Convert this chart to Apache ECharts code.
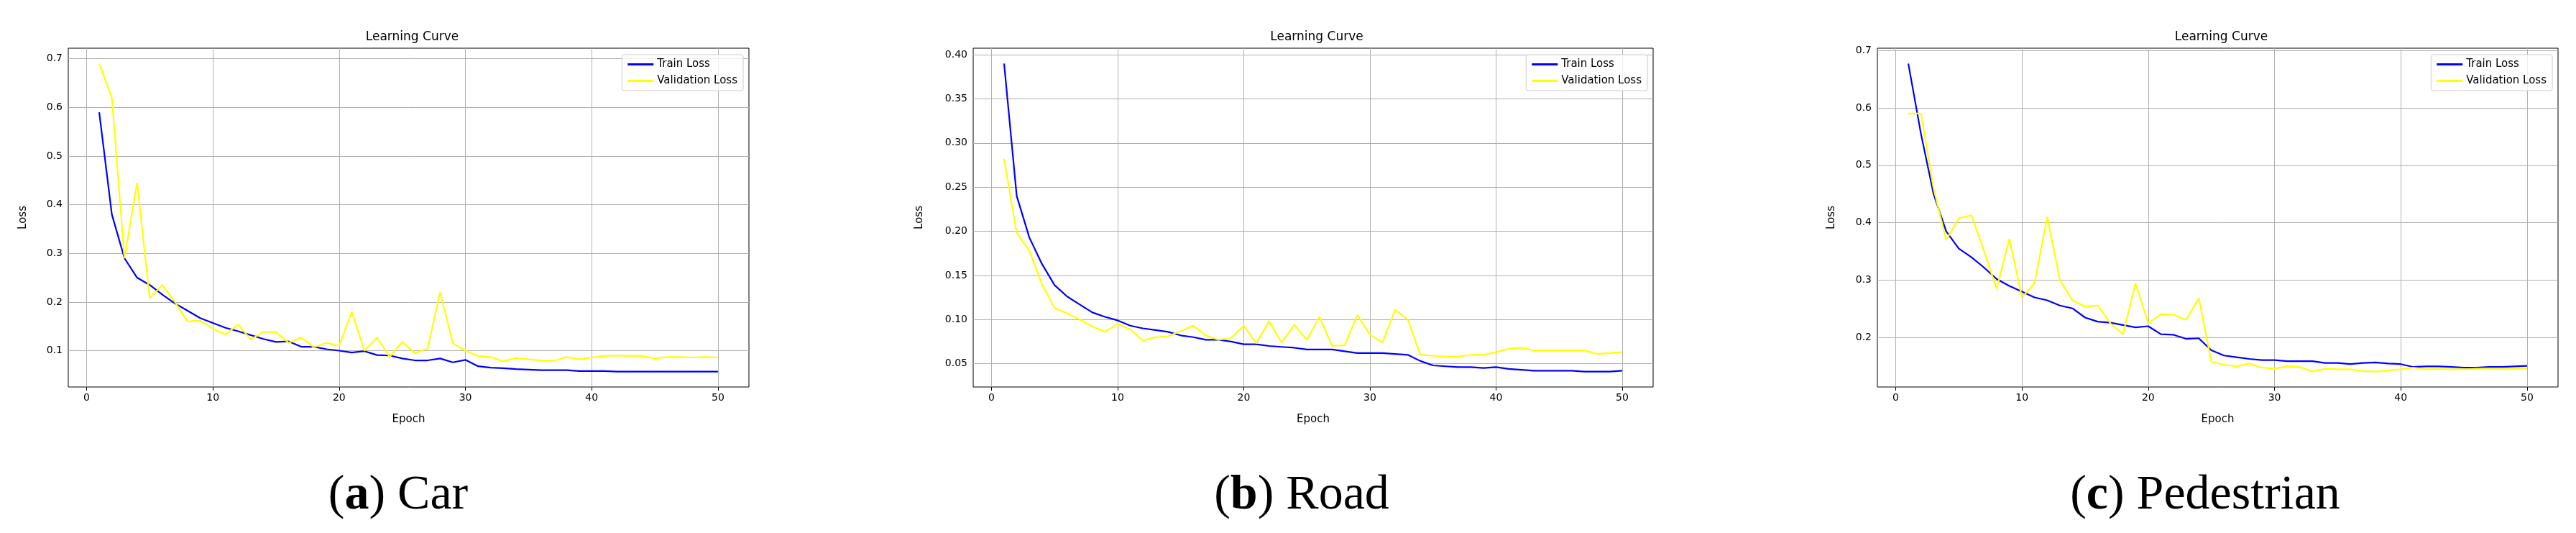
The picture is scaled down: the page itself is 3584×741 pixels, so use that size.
<!DOCTYPE html>
<html>
<head>
<meta charset="utf-8">
<script src="https://cdn.jsdelivr.net/npm/echarts@6/dist/echarts.min.js"></script>
<style>
  html, body { margin: 0; padding: 0; background: #fff; }
  #chart { width: 3584px; height: 741px; }
</style>
</head>
<body>
<div id="chart"></div>
<script>
const epochs = Array.from({ length: 50 }, (_, i) => i + 1);
const xTicks = [0, 10, 20, 30, 40, 50];

const carTrain = [0.59, 0.38, 0.29, 0.25, 0.235, 0.215, 0.197, 0.182, 0.167, 0.157, 0.147, 0.14, 0.132, 0.124, 0.118, 0.119, 0.108, 0.108, 0.103, 0.1, 0.096, 0.099, 0.091, 0.09, 0.084, 0.08, 0.08, 0.084, 0.076, 0.081, 0.068, 0.065, 0.064, 0.062, 0.061, 0.06, 0.06, 0.06, 0.058, 0.058, 0.058, 0.057, 0.057, 0.057, 0.057, 0.057, 0.057, 0.057, 0.057, 0.057];
const carVal = [0.69, 0.62, 0.29, 0.445, 0.208, 0.235, 0.2, 0.16, 0.162, 0.145, 0.133, 0.154, 0.123, 0.139, 0.138, 0.116, 0.127, 0.107, 0.116, 0.11, 0.18, 0.1, 0.127, 0.087, 0.118, 0.095, 0.104, 0.22, 0.115, 0.1, 0.089, 0.087, 0.078, 0.085, 0.082, 0.08, 0.079, 0.087, 0.082, 0.086, 0.089, 0.09, 0.089, 0.089, 0.084, 0.087, 0.087, 0.086, 0.087, 0.086];
const carYTicks = [0.1, 0.2, 0.3, 0.4, 0.5, 0.6, 0.7];

const roadTrain = [0.39, 0.24, 0.193, 0.163, 0.139, 0.126, 0.117, 0.108, 0.103, 0.099, 0.093, 0.09, 0.088, 0.086, 0.082, 0.08, 0.077, 0.077, 0.075, 0.072, 0.072, 0.07, 0.069, 0.068, 0.066, 0.066, 0.066, 0.064, 0.062, 0.062, 0.062, 0.061, 0.06, 0.053, 0.048, 0.047, 0.046, 0.046, 0.045, 0.046, 0.044, 0.043, 0.042, 0.042, 0.042, 0.042, 0.041, 0.041, 0.041, 0.042];
const roadVal = [0.282, 0.198, 0.178, 0.14, 0.113, 0.107, 0.1, 0.092, 0.086, 0.095, 0.089, 0.076, 0.08, 0.081, 0.087, 0.093, 0.082, 0.077, 0.079, 0.093, 0.073, 0.098, 0.074, 0.094, 0.077, 0.103, 0.07, 0.071, 0.105, 0.083, 0.074, 0.111, 0.1, 0.06, 0.059, 0.058, 0.058, 0.06, 0.06, 0.063, 0.067, 0.068, 0.065, 0.065, 0.065, 0.065, 0.065, 0.061, 0.062, 0.063];
const roadYTicks = [0.05, 0.1, 0.15, 0.2, 0.25, 0.3, 0.35, 0.4];

const pedTrain = [0.677, 0.555, 0.45, 0.385, 0.355, 0.34, 0.322, 0.302, 0.29, 0.28, 0.27, 0.265, 0.256, 0.251, 0.235, 0.228, 0.226, 0.222, 0.218, 0.22, 0.206, 0.205, 0.198, 0.199, 0.178, 0.169, 0.166, 0.163, 0.161, 0.161, 0.159, 0.159, 0.159, 0.156, 0.156, 0.154, 0.156, 0.157, 0.155, 0.154, 0.149, 0.15, 0.15, 0.149, 0.148, 0.148, 0.149, 0.149, 0.15, 0.151];
const pedVal = [0.59, 0.59, 0.46, 0.37, 0.408, 0.413, 0.35, 0.285, 0.372, 0.27, 0.295, 0.41, 0.3, 0.265, 0.254, 0.256, 0.225, 0.206, 0.295, 0.225, 0.241, 0.24, 0.231, 0.269, 0.158, 0.153, 0.15, 0.155, 0.148, 0.146, 0.15, 0.149, 0.141, 0.146, 0.145, 0.145, 0.142, 0.141, 0.143, 0.145, 0.148, 0.145, 0.146, 0.145, 0.145, 0.146, 0.146, 0.146, 0.147, 0.146];
const pedYTicks = [0.2, 0.3, 0.4, 0.5, 0.6, 0.7];

const panels = [
  { train: carTrain, val: carVal, yTicks: carYTicks, decimals: 1, left: 95, right: 1042, nameGap: 55, caption: ["a", "Car"] },
  { train: roadTrain, val: roadVal, yTicks: roadYTicks, decimals: 2, left: 1354, right: 2300, nameGap: 67, caption: ["b", "Road"] },
  { train: pedTrain, val: pedVal, yTicks: pedYTicks, decimals: 1, left: 2612, right: 3559, nameGap: 56, caption: ["c", "Pedestrian"] },
];

const chart = echarts.init(document.getElementById("chart"));
const tickFont = { fontFamily: "DejaVu Sans", fontSize: 14, color: "#000" };
const option = { animation: false, backgroundColor: "#fff", title: [], legend: [], grid: [], xAxis: [], yAxis: [], series: [], graphic: [] };

panels.forEach((p, i) => {
  const all = p.train.concat(p.val);
  const lo = Math.min(...all), hi = Math.max(...all);
  const pad = (hi - lo) * 0.05;
  const center = (p.left + p.right) / 2;

  option.grid.push({ left: p.left, width: p.right - p.left, top: 67, height: 471, show: true, borderColor: "#000", borderWidth: 1, backgroundColor: "transparent" });
  option.title.push({ text: "Learning Curve", left: center, top: 38, textAlign: "center", textStyle: { fontFamily: "DejaVu Sans", fontSize: 17, fontWeight: "normal", color: "#000" } });
  option.legend.push({
    data: ["Train Loss", "Validation Loss"], orient: "vertical", right: 3584 - p.right + 8, top: 76,
    borderColor: "#ccc", borderWidth: 1, borderRadius: 3, backgroundColor: "rgba(255,255,255,0.8)", padding: [6, 8],
    itemWidth: 36, itemHeight: 3, itemGap: 8, icon: "rect",
    textStyle: { fontFamily: "DejaVu Sans", fontSize: 15, color: "#000" },
  });
  option.xAxis.push({
    type: "value", gridIndex: i, min: -1.45, max: 52.45, name: "Epoch", nameLocation: "middle", nameGap: 38,
    nameTextStyle: { fontFamily: "DejaVu Sans", fontSize: 15, color: "#000" },
    axisLine: { show: false }, splitLine: { show: false },
    axisTick: { show: true, customValues: xTicks, length: 5, lineStyle: { color: "#000" } },
    axisLabel: { customValues: xTicks, ...tickFont, margin: 8 },
  });
  option.yAxis.push({
    type: "value", gridIndex: i, min: lo - pad, max: hi + pad, name: "Loss", nameLocation: "middle", nameGap: p.nameGap,
    nameTextStyle: { fontFamily: "DejaVu Sans", fontSize: 15, color: "#000" },
    axisLine: { show: false }, splitLine: { show: false },
    axisTick: { show: true, customValues: p.yTicks, length: 5, lineStyle: { color: "#000" } },
    axisLabel: { customValues: p.yTicks, ...tickFont, margin: 8, formatter: (v) => v.toFixed(p.decimals) },
  });
  const gridLines = xTicks.map((x) => ({ xAxis: x })).concat(p.yTicks.map((y) => ({ yAxis: y })));
  option.series.push({
    name: "Train Loss", type: "line", xAxisIndex: i, yAxisIndex: i, showSymbol: false,
    data: epochs.map((e, k) => [e, p.train[k]]), lineStyle: { color: "#0000ff", width: 2.2 }, itemStyle: { color: "#0000ff" }, z: 3,
    markLine: { silent: true, symbol: "none", label: { show: false }, lineStyle: { color: "#b0b0b0", width: 1, type: "solid" }, data: gridLines, z: 1 },
  });
  option.series.push({
    name: "Validation Loss", type: "line", xAxisIndex: i, yAxisIndex: i, showSymbol: false,
    data: epochs.map((e, k) => [e, p.val[k]]), lineStyle: { color: "#ffff00", width: 2.2 }, itemStyle: { color: "#ffff00" }, z: 4,
  });
  const capCenter = [554, 1811, 3068][i];
  option.graphic.push({
    type: "text", left: "center", x: 0, top: 655,
    style: { x: capCenter, text: "", fill: "#000" },
  });
  option.graphic[i] = {
    type: "text", x: capCenter, y: 689,
    style: {
      text: "(" + "{b|" + p.caption[0] + "}) " + p.caption[1],
      rich: { b: { fontWeight: "bold", fontFamily: "Liberation Serif", fontSize: 68 } },
      fontFamily: "Liberation Serif", fontSize: 68, fill: "#000", align: "center", verticalAlign: "middle",
    },
  };
});

chart.setOption(option);
window.addEventListener("resize", () => chart.resize());
</script>
</body>
</html>
